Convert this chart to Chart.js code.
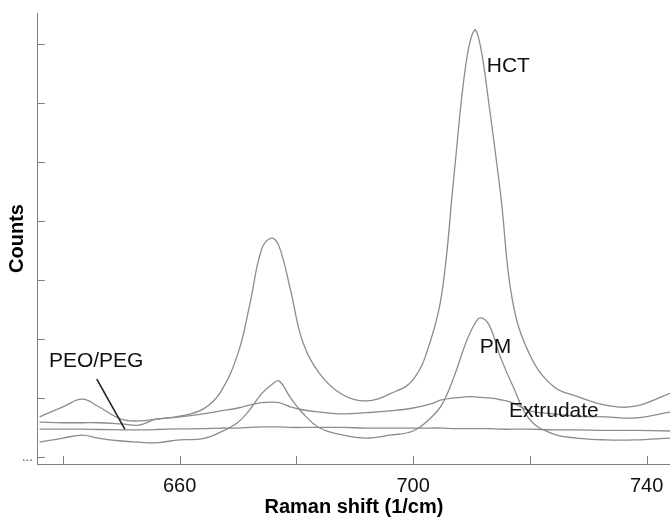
<!DOCTYPE html>
<html>
<head>
<meta charset="utf-8">
<script src="https://cdn.jsdelivr.net/npm/chart.js@4.4.1/dist/chart.umd.min.js"></script>
<style>
  html, body { margin: 0; padding: 0; background: #fff; }
  #wrap { width: 670px; height: 520px; }
</style>
</head>
<body>
<div id="wrap"><canvas id="chart" width="670" height="520"></canvas></div>
<script>
// Raman shift (1/cm) sample points, shared by every spectrum
const shift = [636, 640, 643.3, 646, 650, 653, 656, 660, 664, 667, 670, 672, 674, 675.7, 677, 679, 681, 684, 688, 692,
               696, 700, 703, 705, 707, 709, 710.5, 711.5, 713, 715, 717, 720, 724, 728, 733, 738, 744];

// counts (arbitrary units, one y tick = 1)
const hct = [0.68, 0.85, 0.98, 0.86, 0.64, 0.61, 0.64, 0.69, 0.81, 1.10, 1.76, 2.58, 3.51, 3.71, 3.58, 2.83, 1.98, 1.41, 1.05, 0.95,
             1.07, 1.31, 1.98, 2.83, 4.78, 6.64, 7.24, 6.98, 5.97, 4.44, 2.66, 1.73, 1.20, 1.03, 0.88, 0.86, 1.08];
const pm = [0.25, 0.32, 0.37, 0.32, 0.27, 0.25, 0.24, 0.29, 0.31, 0.42, 0.59, 0.80, 1.07, 1.22, 1.29, 1.00, 0.75, 0.49, 0.37, 0.32,
            0.37, 0.44, 0.66, 0.90, 1.36, 1.93, 2.25, 2.36, 2.24, 1.68, 1.22, 0.63, 0.39, 0.32, 0.29, 0.29, 0.32];
const extrudate = [0.59, 0.58, 0.58, 0.58, 0.56, 0.54, 0.64, 0.68, 0.73, 0.78, 0.83, 0.88, 0.92, 0.93, 0.92, 0.85, 0.80, 0.76, 0.73, 0.75,
                   0.78, 0.83, 0.90, 0.97, 1.00, 1.02, 1.02, 1.01, 1.00, 0.97, 0.92, 0.78, 0.73, 0.69, 0.68, 0.66, 0.76];
const peoPeg = [0.47, 0.47, 0.47, 0.465, 0.46, 0.46, 0.465, 0.475, 0.48, 0.49, 0.49, 0.50, 0.51, 0.51, 0.51, 0.50, 0.50, 0.50, 0.50, 0.49,
                0.49, 0.49, 0.49, 0.49, 0.48, 0.48, 0.48, 0.48, 0.48, 0.47, 0.47, 0.47, 0.46, 0.46, 0.45, 0.45, 0.44];

const xTicks = [640, 660, 680, 700, 720, 740];
const xLabels = [660, 700, 740];

// text labels placed in data coordinates
const notes = [
    { text: 'HCT', x: 712.6, y: 6.63 },
    { text: 'PM', x: 711.4, y: 1.86 },
    { text: 'Extrudate', x: 716.4, y: 0.78 },
    { text: 'PEO/PEG', x: 637.6, y: 1.63 }
];
const pointer = [{ x: 645.8, y: 1.32 }, { x: 650.6, y: 0.47 }];

const FONT = '"Liberation Sans", Arial, sans-serif';
const lineGrey = '#8c8c8c';

function toPoints(ys) {
    return shift.map((x, i) => ({ x: x, y: ys[i] }));
}

function spectrum(label, ys) {
    return {
        label: label,
        data: toPoints(ys),
        borderColor: lineGrey,
        borderWidth: 1.3,
        pointRadius: 0,
        fill: false,
        tension: 0.4
    };
}

// inward tick marks + annotations
const extras = {
    id: 'extras',
    afterDraw(chart) {
        const ctx = chart.ctx;
        const xs = chart.scales.x, ys = chart.scales.y;
        ctx.save();
        ctx.strokeStyle = '#808080';
        ctx.lineWidth = 1;
        ctx.beginPath();
        xs.ticks.forEach(t => {
            const px = Math.round(xs.getPixelForValue(t.value)) + 0.5;
            ctx.moveTo(px, ys.bottom);
            ctx.lineTo(px, ys.bottom - 8);
        });
        ys.ticks.forEach(t => {
            const py = Math.round(ys.getPixelForValue(t.value)) + 0.5;
            ctx.moveTo(xs.left, py);
            ctx.lineTo(xs.left + 7, py);
        });
        ctx.stroke();

        ctx.fillStyle = '#111';
        ctx.font = '21px ' + FONT;
        ctx.textBaseline = 'middle';
        ctx.textAlign = 'left';
        notes.forEach(n => {
            ctx.fillText(n.text, xs.getPixelForValue(n.x), ys.getPixelForValue(n.y));
        });

        ctx.strokeStyle = '#222';
        ctx.lineWidth = 1.6;
        ctx.beginPath();
        ctx.moveTo(xs.getPixelForValue(pointer[0].x), ys.getPixelForValue(pointer[0].y));
        ctx.lineTo(xs.getPixelForValue(pointer[1].x), ys.getPixelForValue(pointer[1].y));
        ctx.stroke();
        ctx.restore();
    }
};

const ctx = document.getElementById('chart').getContext('2d');
new Chart(ctx, {
    type: 'line',
    data: {
        datasets: [
            spectrum('HCT', hct),
            spectrum('PM', pm),
            spectrum('Extrudate', extrudate),
            spectrum('PEO/PEG', peoPeg)
        ]
    },
    options: {
        responsive: false,
        animation: false,
        layout: { padding: { left: 0, top: 13, right: 0, bottom: 3 } },
        plugins: { legend: { display: false }, tooltip: { enabled: false } },
        scales: {
            x: {
                type: 'linear',
                min: 635.7,
                max: 744,
                border: { color: '#808080', width: 1 },
                grid: { display: false, drawTicks: false },
                afterBuildTicks: axis => { axis.ticks = xTicks.map(v => ({ value: v })); },
                ticks: {
                    autoSkip: false,
                    maxRotation: 0,
                    padding: 0,
                    color: '#111',
                    font: { family: FONT, size: 20, lineHeight: 2.2 },
                    callback: v => xLabels.includes(v) ? String(v) : ''
                },
                title: {
                    display: true,
                    text: 'Raman shift (1/cm)',
                    color: '#000',
                    font: { family: FONT, size: 20, weight: 'bold', lineHeight: 1 },
                    padding: { top: -11, bottom: 0 }
                }
            },
            y: {
                type: 'linear',
                min: -0.12,
                max: 7.53,
                border: { color: '#808080', width: 1 },
                grid: { display: false, drawTicks: false },
                ticks: {
                    stepSize: 1,
                    includeBounds: false,
                    padding: 5,
                    color: '#555',
                    font: { family: FONT, size: 13 },
                    callback: v => v === 0 ? '...' : ''
                },
                title: {
                    display: true,
                    text: 'Counts',
                    color: '#000',
                    font: { family: FONT, size: 20, weight: 'bold', lineHeight: 1 },
                    padding: { top: 7, bottom: -10 }
                }
            }
        }
    },
    plugins: [extras]
});
</script>
</body>
</html>
